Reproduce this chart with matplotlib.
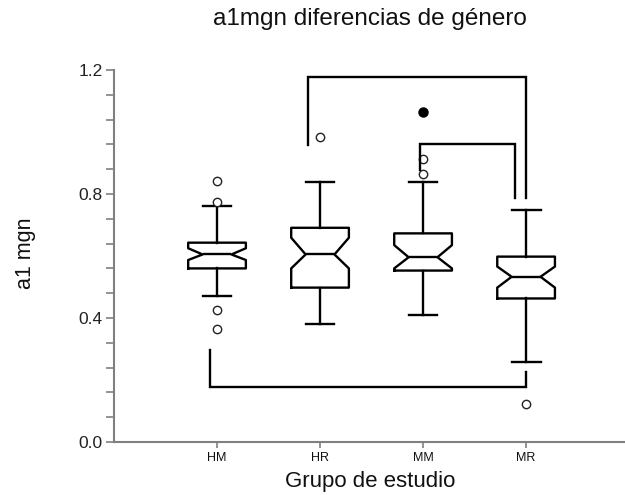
import matplotlib
matplotlib.use("Agg")
import matplotlib.pyplot as plt
from matplotlib.ticker import MultipleLocator

plt.rcParams['font.family'] = ['Liberation Sans', 'DejaVu Sans']

# ---- data ----
groups = ["HM", "HR", "MM", "MR"]
whisker_low = [0.471, 0.380, 0.410, 0.259]
q1 = [0.560, 0.498, 0.553, 0.463]
ci_low = [0.587, 0.560, 0.560, 0.498]
median = [0.605, 0.605, 0.596, 0.533]
ci_high = [0.625, 0.659, 0.635, 0.566]
q3 = [0.643, 0.691, 0.673, 0.598]
whisker_high = [0.761, 0.840, 0.840, 0.748]
outliers = [[0.843, 0.773, 0.426, 0.364], [0.983], [0.912, 0.863], [0.122]]
extremes = [[], [], [1.063], []]

# significance brackets: (x_left, x_right, y_bar, y_left_end, y_right_end)
bracket_x_left = [1.886, 2.97, 0.93]
bracket_x_right = [3.997, 3.89, 3.997]
bracket_y_bar = [1.178, 0.960, 0.176]
bracket_y_left = [0.958, 0.877, 0.297]
bracket_y_right = [0.786, 0.786, 0.227]

yticks = [0.0, 0.4, 0.8, 1.2]
ytick_labels = ["0.0", "0.4", "0.8", "1.2"]

fig = plt.figure(figsize=(6.25, 4.95), dpi=100)
ax = fig.add_axes([114/625, 1-442/495, 1-114/625, (442-70)/495])

positions = list(range(1, len(groups)+1))
stats = []
for i, g in enumerate(groups):
    stats.append(dict(label=g, whislo=whisker_low[i], q1=q1[i], med=median[i],
                      q3=q3[i], whishi=whisker_high[i], cilo=ci_low[i],
                      cihi=ci_high[i], fliers=outliers[i]))

lw = 1.7
ax.bxp(stats, positions=positions, widths=0.56, shownotches=True,
       boxprops=dict(color='black', linewidth=lw),
       whiskerprops=dict(color='black', linewidth=lw),
       capprops=dict(color='black', linewidth=lw),
       medianprops=dict(color='black', linewidth=lw),
       flierprops=dict(marker='o', markerfacecolor='white',
                       markeredgecolor='#222222', markersize=6, markeredgewidth=1.0))

for i, ex in enumerate(extremes):
    if ex:
        ax.plot([positions[i]]*len(ex), ex, marker='o', linestyle='none',
                color='black', markersize=6.5)

for xl, xr, yb, yl, yr in zip(bracket_x_left, bracket_x_right, bracket_y_bar,
                              bracket_y_left, bracket_y_right):
    ax.plot([xl, xl, xr, xr], [yl, yb, yb, yr], color='black', linewidth=lw,
            solid_joinstyle='miter', clip_on=False)

ax.set_xlim(0, 4.96)
ax.set_ylim(0, 1.2)
ax.set_xticks(positions)
ax.set_xticklabels(groups, fontsize=9)
ax.set_yticks(yticks)
ax.set_yticklabels(ytick_labels, fontsize=12.5)
ax.yaxis.set_minor_locator(MultipleLocator(0.08))

for s in ['top', 'right']:
    ax.spines[s].set_visible(False)
for s in ['left', 'bottom']:
    ax.spines[s].set_color('#808080')
    ax.spines[s].set_linewidth(1.5)

ax.tick_params(axis='y', which='both', length=6, width=1.2, color='#808080',
               pad=2, labelcolor='#222222')
ax.tick_params(axis='x', which='both', length=4, width=1.2, color='#808080',
               pad=3, labelcolor='#111111')

fig.text(370/625, 1-19/495, "a1mgn diferencias de género", ha='center',
         va='center', fontsize=17.5, color='#111111')
fig.text(370/625, 1-482/495, "Grupo de estudio", ha='center', va='center',
         fontsize=16, color='#111111')
fig.text(25/625, 1-253/495, "a1 mgn", ha='center', va='center', rotation=90,
         fontsize=15.5, color='#111111')

fig.savefig("out.png", dpi=100)
